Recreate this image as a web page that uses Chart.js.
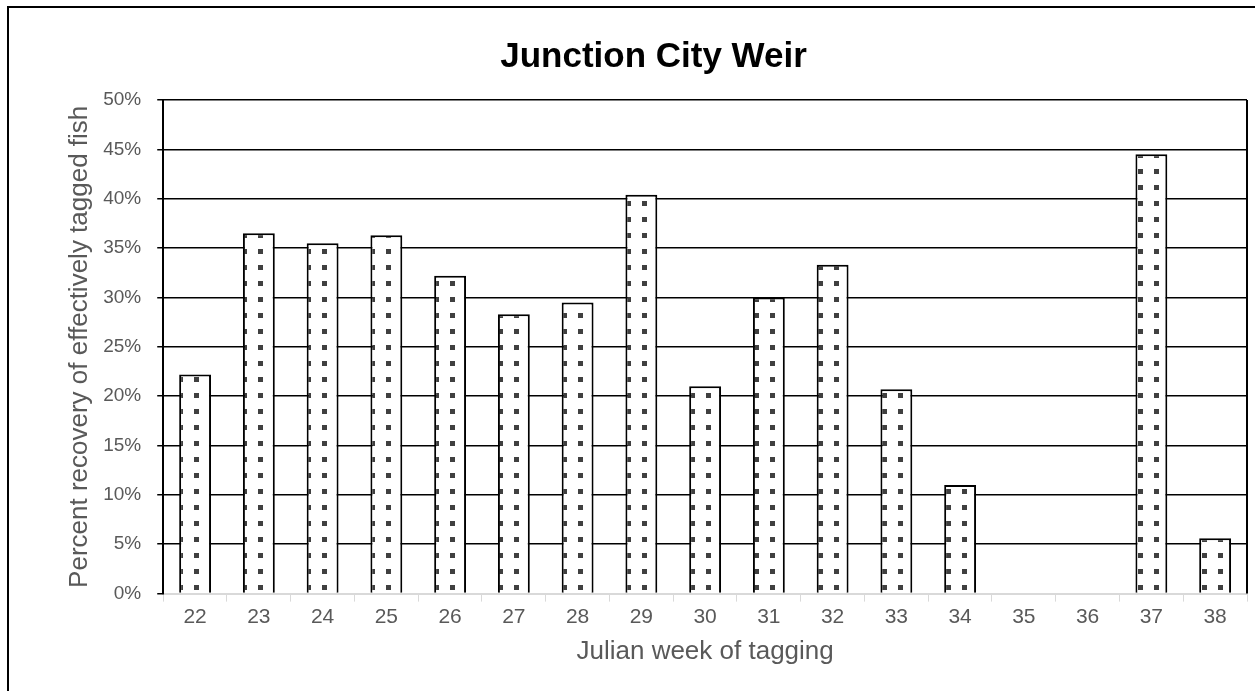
<!DOCTYPE html>
<html>
<head>
<meta charset="utf-8">
<script src="https://cdn.jsdelivr.net/npm/chart.js@4.4.1/dist/chart.umd.min.js"></script>
<style>
  html, body { margin: 0; padding: 0; background: #fff; overflow: hidden; }
  #frame {
    position: absolute; left: 7px; top: 6px;
    width: 1270px; height: 710px;
    border: 2px solid #000;
  }
  #wrap { position: absolute; left: 0; top: 0; width: 1255px; height: 691px; }
</style>
</head>
<body>
<div id="frame"></div>
<div id="wrap"><canvas id="chart"></canvas></div>
<script>
// Julian weeks and recovery rates (fraction)
const weeks = ['22', '23', '24', '25', '26', '27', '28', '29', '30', '31', '32', '33', '34', '35', '36', '37', '38'];
const recovery = [0.222, 0.365, 0.355, 0.363, 0.322, 0.283, 0.295, 0.404, 0.210, 0.300, 0.333, 0.207, 0.110, 0, 0, 0.445, 0.056];

// dotted fill like the excel pattern
function dotPattern() {
    let c = document.createElement('canvas');
    c.width = 16;
    c.height = 16;
    let g = c.getContext('2d');
    g.fillStyle = '#fff';
    g.fillRect(0, 0, 16, 16);
    g.fillStyle = '#404040';
    g.fillRect(2, 9, 5, 5);
    return g.createPattern(c, 'repeat');
}

// right border of the plot area
const plotBox = {
    id: 'plotBox',
    afterDraw(chart) {
        let a = chart.chartArea;
        let ctx = chart.ctx;
        ctx.save();
        ctx.strokeStyle = '#000';
        ctx.lineWidth = 2;
        ctx.beginPath();
        ctx.moveTo(a.right, a.top);
        ctx.lineTo(a.right, a.bottom);
        ctx.stroke();
        ctx.restore();
    }
};

const ctx = document.getElementById('chart').getContext('2d');
new Chart(ctx, {
    type: 'bar',
    data: {
        labels: weeks,
        datasets: [{
            data: recovery,
            backgroundColor: dotPattern(),
            borderColor: '#000',
            borderWidth: 2,
            barPercentage: 0.5,
            categoryPercentage: 1
        }]
    },
    options: {
        responsive: true,
        maintainAspectRatio: false,
        animation: false,
        layout: { padding: { left: 60, right: 8, top: 12, bottom: 20 } },
        plugins: {
            legend: { display: false },
            tooltip: { enabled: false },
            title: {
                display: true,
                text: 'Junction City Weir',
                color: '#000',
                font: { family: 'Liberation Sans', size: 35, weight: 'bold' },
                padding: { top: 24, bottom: 22 }
            }
        },
        scales: {
            x: {
                grid: {
                    offset: true,
                    drawOnChartArea: false,
                    drawTicks: true,
                    tickLength: 8,
                    color: '#d9d9d9'
                },
                border: { color: '#d9d9d9', width: 2 },
                ticks: {
                    color: '#595959',
                    font: { family: 'Liberation Sans', size: 21 },
                    padding: 3
                },
                title: {
                    display: true,
                    text: 'Julian week of tagging',
                    color: '#595959',
                    font: { family: 'Liberation Sans', size: 26 },
                    padding: { top: 3, bottom: 4 }
                }
            },
            y: {
                min: 0,
                max: 0.5,
                grid: {
                    color: '#000',
                    lineWidth: 1.5,
                    tickLength: 6
                },
                border: { color: '#000', width: 2 },
                ticks: {
                    stepSize: 0.05,
                    color: '#595959',
                    font: { family: 'Liberation Sans', size: 19 },
                    padding: 16,
                    callback: v => Math.round(v * 100) + '%'
                },
                title: {
                    display: true,
                    text: 'Percent recovery of effectively tagged fish',
                    color: '#595959',
                    font: { family: 'Liberation Sans', size: 26 },
                    padding: { top: 4, bottom: -8 }
                }
            }
        }
    },
    plugins: [plotBox]
});
</script>
</body>
</html>
